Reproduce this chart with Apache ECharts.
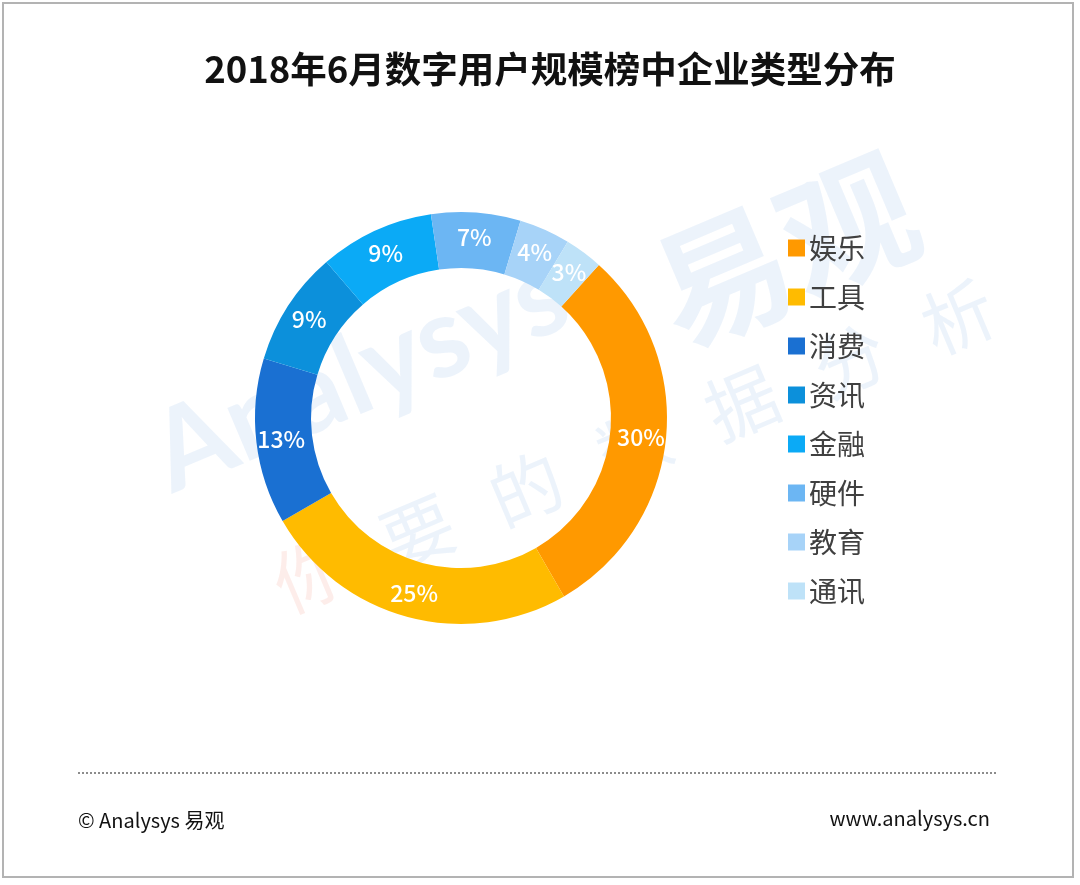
<!DOCTYPE html>
<html>
<head>
<meta charset="utf-8">
<script src="https://cdn.jsdelivr.net/npm/echarts@6/dist/echarts.min.js"></script>
<style>
html,body{margin:0;padding:0;background:#fff;}
#main{width:1080px;height:885px;}
</style>
</head>
<body>
<div id="main"></div>
<script>
const categories = ['娱乐','工具','消费','资讯','金融','硬件','教育','通讯'];
const values = [30, 25, 13, 9, 9, 7, 4, 3];
const colors = ['#FF9900','#FFBB00','#1A70D2','#0C90DB','#0BAAF6','#6CB6F3','#A7D3F8','#BEE2F8'];
const titleText = '2018年6月数字用户规模榜中企业类型分布';
const footerLeft = '© Analysys 易观';
const footerRight = 'www.analysys.cn';
const watermarkChars = ['你','要','的','数','据','分','析'];

const chart = echarts.init(document.getElementById('main'));
const fontCJK = '"Noto Sans CJK SC", "Noto Sans", sans-serif';
const wmFill = 'rgba(195,218,242,0.32)';
const rot = 0.40;
const wmGraphics = watermarkChars.map((ch, i) => ({
  type: 'text', x: 310 + i * 108, y: 575 - i * 43, rotation: rot, z: -1,
  style: { text: ch, fontFamily: fontCJK, fontSize: 72, fill: i === 0 ? 'rgba(250,200,190,0.32)' : wmFill, textAlign: 'center', textVerticalAlign: 'middle' }
}));
chart.setOption({
  backgroundColor: '#fff',
  animation: false,
  title: {
    text: titleText,
    left: 545, top: 46, textAlign: 'center',
    textStyle: { fontFamily: fontCJK, fontSize: 36.5, fontWeight: 'bold', color: '#111' }
  },
  legend: {
    orient: 'vertical',
    left: 783, top: 228,
    itemWidth: 17, itemHeight: 17, itemGap: 19,
    icon: 'rect',
    textStyle: { fontFamily: fontCJK, fontSize: 28, lineHeight: 30, color: '#404040', padding: [0,0,0,-1] },
    data: categories
  },
  graphic: [
    { type: 'rect', shape: { x: 3, y: 3, width: 1070, height: 874 }, style: { fill: 'none', stroke: '#b3b3b3', lineWidth: 2 }, z: 100 },
    { type: 'text', x: 360, y: 375, rotation: rot, z: -1,
      style: { text: 'Analysys', fontFamily: 'Lato, sans-serif', fontSize: 112, fontWeight: 'bold', fill: wmFill, textAlign: 'center', textVerticalAlign: 'middle' } },
    { type: 'text', x: 785, y: 250, rotation: rot, z: -1,
      style: { text: '易观', fontFamily: fontCJK, fontSize: 135, fontWeight: 'bold', fill: wmFill, textAlign: 'center', textVerticalAlign: 'middle' } },
    ...wmGraphics,
    { type: 'line', shape: { x1: 78, y1: 773, x2: 996, y2: 773 }, style: { stroke: '#8c8c8c', lineWidth: 2, lineDash: [2, 2] } },
    { type: 'text', x: 78, y: 820, style: { text: footerLeft, fontFamily: fontCJK, fontSize: 20, fill: '#111', textVerticalAlign: 'middle' } },
    { type: 'text', x: 990, y: 818, style: { text: footerRight, fontFamily: fontCJK, fontSize: 20, fill: '#111', textAlign: 'right', textVerticalAlign: 'middle' } }
  ],
  series: [{
    type: 'pie',
    center: [461, 418],
    radius: [150, 206],
    startAngle: 48,
    clockwise: true,
    avoidLabelOverlap: false,
    labelLayout: { hideOverlap: false },
    label: {
      show: true, position: 'inside',
      formatter: p => p.value + '%',
      color: '#fff', fontFamily: fontCJK, fontSize: 23, fontWeight: 500
    },
    labelLine: { show: false },
    itemStyle: { borderWidth: 0 },
    data: categories.map((c, i) => ({ name: c, value: values[i], itemStyle: { color: colors[i] } }))
  }]
});
</script>
</body>
</html>
